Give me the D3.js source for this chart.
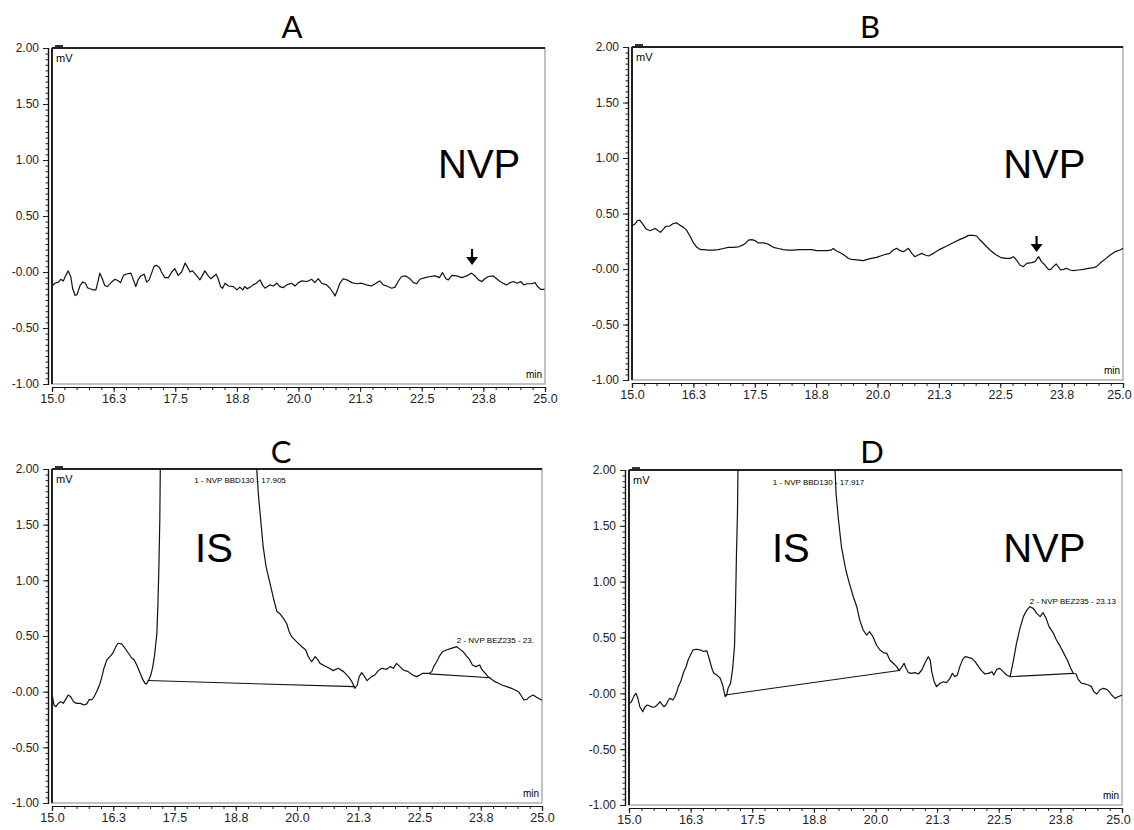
<!DOCTYPE html>
<html>
<head>
<meta charset="utf-8">
<script src="https://cdn.jsdelivr.net/npm/d3@7"></script>
<style>
  body { margin: 0; background: #fff; }
  svg { display: block; }
  .tick text { font-family: "Liberation Sans", Arial, sans-serif; fill: #222; }
</style>
</head>
<body>
<svg id="chart" width="1134" height="830"></svg>
<script>
// axis ticks (same for all four chromatograms)
var xTicks = [15, 16.25, 17.5, 18.75, 20, 21.25, 22.5, 23.75, 25];
var xTickLabels = ["15.0", "16.3", "17.5", "18.8", "20.0", "21.3", "22.5", "23.8", "25.0"];
var yTicks = [2, 1.5, 1, 0.5, 0, -0.5, -1];
var yTickLabels = ["2.00", "1.50", "1.00", "0.50", "-0.00", "-0.50", "-1.00"];

// traces: [time (min), signal (mV)]
var traceA = [[15.01,-0.12],[15.06,-0.10],[15.13,-0.09],[15.18,-0.065],[15.23,-0.08],[15.28,-0.03],[15.33,0.01],[15.38,-0.04],[15.42,-0.15],[15.47,-0.21],[15.51,-0.20],[15.57,-0.12],[15.62,-0.09],[15.68,-0.10],[15.72,-0.14],[15.77,-0.15],[15.84,-0.16],[15.89,-0.16],[15.93,-0.09],[15.97,-0.01],[16.02,-0.06],[16.07,-0.12],[16.12,-0.13],[16.21,-0.09],[16.28,-0.065],[16.35,-0.08],[16.39,-0.095],[16.45,-0.03],[16.50,-0.02],[16.60,-0.01],[16.65,-0.07],[16.70,-0.13],[16.75,-0.065],[16.80,-0.035],[16.87,-0.02],[16.92,-0.09],[16.97,-0.07],[17.02,-0.01],[17.07,0.05],[17.12,0.06],[17.18,0.04],[17.22,0.0],[17.29,-0.05],[17.36,-0.05],[17.43,0.0],[17.49,0.03],[17.56,-0.03],[17.63,0.0],[17.70,0.08],[17.74,0.05],[17.80,0.0],[17.85,0.01],[17.93,-0.03],[18.00,-0.07],[18.10,0.01],[18.17,-0.035],[18.22,-0.06],[18.33,-0.02],[18.37,-0.06],[18.42,-0.13],[18.46,-0.145],[18.51,-0.10],[18.58,-0.125],[18.68,-0.13],[18.75,-0.16],[18.81,-0.135],[18.87,-0.16],[18.91,-0.13],[18.96,-0.15],[19.02,-0.135],[19.08,-0.115],[19.14,-0.10],[19.22,-0.07],[19.27,-0.115],[19.32,-0.145],[19.37,-0.13],[19.42,-0.115],[19.49,-0.125],[19.56,-0.10],[19.62,-0.13],[19.69,-0.14],[19.76,-0.115],[19.86,-0.10],[19.93,-0.125],[20.0,-0.095],[20.06,-0.08],[20.17,-0.085],[20.27,-0.065],[20.33,-0.095],[20.40,-0.06],[20.47,-0.10],[20.57,-0.115],[20.64,-0.145],[20.71,-0.19],[20.74,-0.215],[20.79,-0.16],[20.84,-0.10],[20.91,-0.06],[20.98,-0.07],[21.08,-0.095],[21.18,-0.105],[21.28,-0.10],[21.38,-0.115],[21.48,-0.125],[21.59,-0.095],[21.65,-0.08],[21.72,-0.115],[21.79,-0.125],[21.89,-0.145],[21.96,-0.135],[22.02,-0.085],[22.09,-0.04],[22.18,-0.035],[22.26,-0.06],[22.33,-0.095],[22.40,-0.105],[22.46,-0.065],[22.57,-0.05],[22.67,-0.04],[22.77,-0.035],[22.86,-0.05],[22.92,-0.005],[22.99,-0.06],[23.04,-0.07],[23.11,-0.03],[23.21,-0.035],[23.31,-0.05],[23.41,-0.035],[23.51,-0.01],[23.58,-0.035],[23.65,-0.07],[23.72,-0.085],[23.78,-0.06],[23.85,-0.04],[23.95,-0.035],[24.02,-0.06],[24.09,-0.085],[24.15,-0.10],[24.22,-0.115],[24.29,-0.095],[24.36,-0.085],[24.44,-0.10],[24.51,-0.085],[24.57,-0.115],[24.64,-0.105],[24.73,-0.105],[24.80,-0.095],[24.84,-0.125],[24.91,-0.155],[24.99,-0.155]];

var traceB = [[15.0,0.39],[15.06,0.405],[15.11,0.435],[15.16,0.44],[15.22,0.405],[15.29,0.36],[15.37,0.345],[15.47,0.365],[15.52,0.35],[15.58,0.33],[15.64,0.36],[15.69,0.385],[15.76,0.385],[15.84,0.41],[15.91,0.415],[15.98,0.395],[16.05,0.375],[16.11,0.35],[16.17,0.305],[16.24,0.245],[16.32,0.195],[16.39,0.175],[16.47,0.175],[16.55,0.17],[16.66,0.17],[16.76,0.175],[16.86,0.185],[16.96,0.195],[17.06,0.195],[17.17,0.20],[17.25,0.215],[17.32,0.235],[17.37,0.26],[17.44,0.265],[17.51,0.255],[17.57,0.235],[17.68,0.235],[17.74,0.23],[17.81,0.215],[17.88,0.195],[17.98,0.185],[18.08,0.175],[18.18,0.17],[18.29,0.17],[18.39,0.175],[18.46,0.175],[18.56,0.175],[18.66,0.175],[18.76,0.165],[18.86,0.165],[18.97,0.165],[19.05,0.17],[19.10,0.185],[19.16,0.165],[19.20,0.155],[19.27,0.14],[19.34,0.12],[19.41,0.095],[19.47,0.087],[19.58,0.083],[19.71,0.075],[19.85,0.093],[19.98,0.105],[20.12,0.126],[20.25,0.141],[20.32,0.171],[20.39,0.186],[20.46,0.165],[20.53,0.156],[20.63,0.186],[20.70,0.141],[20.76,0.111],[20.83,0.126],[20.90,0.141],[20.97,0.126],[21.04,0.117],[21.14,0.141],[21.27,0.177],[21.41,0.207],[21.54,0.237],[21.68,0.267],[21.78,0.285],[21.85,0.303],[21.95,0.303],[22.02,0.297],[22.09,0.261],[22.19,0.216],[22.29,0.171],[22.39,0.135],[22.50,0.105],[22.60,0.096],[22.70,0.096],[22.77,0.111],[22.83,0.081],[22.90,0.036],[22.97,0.021],[23.04,0.051],[23.14,0.057],[23.21,0.066],[23.28,0.111],[23.34,0.066],[23.41,0.036],[23.48,-0.003],[23.53,-0.003],[23.58,0.021],[23.64,0.045],[23.68,0.021],[23.73,-0.009],[23.79,-0.003],[23.85,0.006],[23.92,-0.009],[23.99,-0.015],[24.09,-0.009],[24.19,-0.003],[24.29,0.006],[24.40,0.012],[24.46,0.021],[24.53,0.051],[24.63,0.087],[24.74,0.126],[24.84,0.156],[24.94,0.171],[25.0,0.186]];

var traceC = [[15.01,-0.045],[15.04,-0.12],[15.08,-0.135],[15.13,-0.105],[15.18,-0.09],[15.23,-0.105],[15.29,-0.06],[15.33,-0.03],[15.38,-0.045],[15.44,-0.09],[15.50,-0.105],[15.58,-0.105],[15.65,-0.12],[15.71,-0.11],[15.76,-0.07],[15.81,-0.075],[15.86,-0.045],[15.91,0.0],[15.97,0.06],[16.01,0.12],[16.06,0.21],[16.12,0.285],[16.18,0.315],[16.24,0.345],[16.31,0.41],[16.35,0.435],[16.42,0.43],[16.49,0.39],[16.56,0.345],[16.63,0.30],[16.67,0.29],[16.73,0.24],[16.80,0.165],[16.85,0.11],[16.90,0.075],[16.93,0.07],[16.97,0.10],[17.01,0.14],[17.05,0.21],[17.09,0.315],[17.14,0.52],[17.16,0.76],[17.18,1.09],[17.20,1.54],[17.21,2.0],[17.23,3.0],[17.5,9.0],[17.905,12.0],[18.5,8.0],[19.1,3.0],[19.18,1.99],[19.21,1.78],[19.26,1.54],[19.31,1.30],[19.37,1.12],[19.45,0.97],[19.53,0.82],[19.59,0.72],[19.65,0.70],[19.72,0.66],[19.79,0.61],[19.84,0.54],[19.89,0.494],[19.99,0.449],[20.10,0.404],[20.18,0.374],[20.23,0.314],[20.30,0.269],[20.37,0.314],[20.42,0.29],[20.47,0.254],[20.57,0.231],[20.66,0.21],[20.74,0.189],[20.84,0.21],[20.95,0.18],[21.05,0.135],[21.12,0.09],[21.18,0.03],[21.23,0.06],[21.27,0.135],[21.32,0.171],[21.37,0.141],[21.43,0.099],[21.52,0.135],[21.59,0.15],[21.66,0.189],[21.73,0.21],[21.83,0.201],[21.90,0.225],[21.97,0.21],[22.03,0.254],[22.10,0.225],[22.17,0.195],[22.27,0.18],[22.36,0.15],[22.44,0.135],[22.51,0.15],[22.56,0.165],[22.63,0.165],[22.70,0.165],[22.75,0.18],[22.79,0.225],[22.85,0.269],[22.90,0.314],[22.97,0.359],[23.05,0.374],[23.15,0.389],[23.26,0.404],[23.33,0.38],[23.39,0.359],[23.46,0.32],[23.52,0.29],[23.58,0.24],[23.65,0.225],[23.73,0.24],[23.77,0.2],[23.83,0.171],[23.90,0.135],[23.97,0.111],[24.04,0.09],[24.11,0.075],[24.18,0.06],[24.28,0.045],[24.38,0.03],[24.45,0.015],[24.52,0.0],[24.58,-0.039],[24.63,-0.075],[24.69,-0.069],[24.75,-0.045],[24.82,-0.03],[24.89,-0.051],[24.96,-0.069],[25.0,-0.075]];

var traceD = [[15.01,-0.09],[15.05,-0.075],[15.10,-0.025],[15.14,0.0],[15.18,-0.045],[15.22,-0.12],[15.28,-0.165],[15.32,-0.125],[15.37,-0.105],[15.43,-0.115],[15.48,-0.125],[15.53,-0.12],[15.57,-0.105],[15.63,-0.075],[15.66,-0.095],[15.71,-0.12],[15.75,-0.105],[15.80,-0.06],[15.83,-0.045],[15.89,-0.06],[15.93,-0.03],[15.97,0.015],[16.0,0.06],[16.05,0.105],[16.10,0.18],[16.16,0.24],[16.20,0.30],[16.25,0.345],[16.30,0.39],[16.37,0.395],[16.44,0.39],[16.51,0.375],[16.58,0.38],[16.63,0.305],[16.68,0.225],[16.72,0.18],[16.78,0.165],[16.85,0.135],[16.90,0.075],[16.95,-0.03],[16.98,-0.015],[17.01,0.045],[17.06,0.09],[17.10,0.21],[17.14,0.42],[17.16,0.78],[17.18,1.25],[17.20,1.61],[17.21,2.0],[17.23,3.0],[17.5,9.0],[17.917,12.0],[18.5,8.0],[19.1,3.0],[19.18,2.0],[19.20,1.79],[19.25,1.55],[19.31,1.31],[19.40,1.10],[19.47,0.985],[19.55,0.865],[19.62,0.776],[19.68,0.656],[19.75,0.567],[19.82,0.522],[19.88,0.552],[19.95,0.507],[20.02,0.433],[20.09,0.388],[20.16,0.365],[20.23,0.358],[20.29,0.299],[20.36,0.269],[20.43,0.239],[20.48,0.203],[20.53,0.233],[20.58,0.269],[20.62,0.224],[20.67,0.185],[20.73,0.179],[20.80,0.185],[20.87,0.173],[20.94,0.209],[21.0,0.269],[21.07,0.328],[21.11,0.299],[21.14,0.194],[21.19,0.104],[21.24,0.06],[21.31,0.09],[21.38,0.104],[21.44,0.096],[21.51,0.134],[21.56,0.179],[21.61,0.149],[21.66,0.164],[21.71,0.239],[21.77,0.304],[21.82,0.328],[21.88,0.322],[21.95,0.313],[22.02,0.284],[22.09,0.239],[22.15,0.203],[22.22,0.173],[22.29,0.179],[22.36,0.194],[22.40,0.164],[22.46,0.215],[22.52,0.224],[22.59,0.194],[22.66,0.164],[22.73,0.149],[22.80,0.299],[22.86,0.448],[22.93,0.582],[23.0,0.687],[23.07,0.746],[23.13,0.776],[23.20,0.761],[23.27,0.716],[23.34,0.687],[23.40,0.722],[23.46,0.672],[23.52,0.597],[23.61,0.537],[23.67,0.478],[23.75,0.418],[23.82,0.358],[23.89,0.299],[23.96,0.224],[24.01,0.179],[24.07,0.173],[24.11,0.125],[24.18,0.09],[24.25,0.084],[24.32,0.075],[24.38,0.06],[24.43,0.015],[24.49,-0.006],[24.55,0.03],[24.62,0.045],[24.69,0.036],[24.74,0.015],[24.79,-0.015],[24.86,-0.045],[24.92,-0.03],[25.0,-0.015]];

// integration baselines drawn under the peaks
var baselinesC = [[[16.95, 0.10], [21.18, 0.045]], [[22.70, 0.16], [23.95, 0.125]]];
var baselinesD = [[[16.95, -0.015], [20.48, 0.205]], [[22.73, 0.149], [24.01, 0.179]]];

// small peak annotations: [time, mV, text]
var peakLabelsC = [[17.905, 1.87, "1 - NVP BBD130 - 17.905"], [23.26, 0.44, "2 - NVP BEZ235 - 23."]];
var peakLabelsD = [[17.917, 1.87, "1 - NVP BBD130 - 17.917"], [23.13, 0.80, "2 - NVP BEZ235 - 23.13"]];

// big compound labels: [time, mV, text]
var bigLabelsA = [[22.83, 0.84, "NVP"]];
var bigLabelsB = [[22.56, 0.82, "NVP"]];
var bigLabelsC = [[17.92, 1.165, "IS"]];
var bigLabelsD = [[17.90, 1.176, "IS"], [22.59, 1.176, "NVP"]];

// arrow tips: [time, mV]
var arrowsA = [[23.52, 0.063]];
var arrowsB = [[23.24, 0.153]];

var panelTitles = ["A", "B", "C", "D"];

var svg = d3.select("#chart");

var panels = [
    { box: [52, 48, 545, 384], titleX: 292, titleY: 38, trace: traceA, baselines: [], peaks: [], big: bigLabelsA, arrows: arrowsA },
    { box: [632, 47, 1123, 380], titleX: 870, titleY: 38, trace: traceB, baselines: [], peaks: [], big: bigLabelsB, arrows: arrowsB },
    { box: [52, 469, 542, 803], titleX: 281, titleY: 463, trace: traceC, baselines: baselinesC, peaks: peakLabelsC, big: bigLabelsC, arrows: [] },
    { box: [629, 470, 1122, 805], titleX: 872, titleY: 463, trace: traceD, baselines: baselinesD, peaks: peakLabelsD, big: bigLabelsD, arrows: [] }
];

panels.forEach(drawPanel);

function drawPanel(p, idx) {
    var left = p.box[0], top = p.box[1], right = p.box[2], bottom = p.box[3];
    var x = d3.scaleLinear().domain([15, 25]).range([left, right]);
    var y = d3.scaleLinear().domain([-1, 2]).range([bottom, top]);
    var g = svg.append("g");

    // clip for trace
    var clipId = "clip" + idx;
    svg.append("clipPath").attr("id", clipId)
        .append("rect").attr("x", left).attr("y", top).attr("width", right - left).attr("height", bottom - top);

    // title
    g.append("text")
        .attr("x", p.titleX).attr("y", p.titleY)
        .attr("text-anchor", "middle")
        .style("font-family", "Lato, 'Open Sans', sans-serif")
        .style("font-size", "31px")
        .text(panelTitles[idx]);

    // y axis, a few px left of the frame
    var yAxisG = g.append("g").attr("transform", "translate(" + (left - 4) + ",0)");
    yAxisG.call(d3.axisLeft(y).tickValues(d3.range(-1, 2.001, 0.05)).tickSize(2.5).tickFormat(""));
    yAxisG.append("g").call(d3.axisLeft(y).tickValues(yTicks).tickSize(5).tickPadding(4)
        .tickFormat(function (d, i) { return yTickLabels[i]; }));
    yAxisG.selectAll("path.domain").attr("stroke", "#111").attr("stroke-width", 1.2);
    yAxisG.selectAll(".tick line").attr("stroke", "#222");
    yAxisG.selectAll(".tick text").style("font-size", "12px");

    // x axis under the frame
    var xAxisG = g.append("g").attr("transform", "translate(0," + (bottom + 3) + ")");
    xAxisG.call(d3.axisBottom(x).tickValues(d3.range(15, 25.001, 0.25)).tickSize(3).tickFormat(""));
    xAxisG.append("g").call(d3.axisBottom(x).tickValues(xTicks).tickSize(5).tickPadding(2)
        .tickFormat(function (d, i) { return xTickLabels[i]; }));
    xAxisG.selectAll("path.domain").attr("stroke", "#111").attr("stroke-width", 1.2);
    xAxisG.selectAll(".tick line").attr("stroke", "#222");
    xAxisG.selectAll(".tick text").style("font-size", "12.5px")
        .attr("dx", function (d) { return (d === 25 && right > 1100) ? "-4" : "0"; });

    // frame
    g.append("rect").attr("x", left).attr("y", top).attr("width", right - left).attr("height", bottom - top)
        .attr("fill", "none").attr("stroke", "#999").attr("stroke-width", 1.2);
    g.append("line").attr("x1", left).attr("x2", right).attr("y1", top).attr("y2", top)
        .attr("stroke", "#222").attr("stroke-width", 2);
    g.append("line").attr("x1", left).attr("x2", left).attr("y1", top).attr("y2", bottom)
        .attr("stroke", "#222").attr("stroke-width", 2);
    g.append("rect").attr("x", left + 3).attr("y", top - 3).attr("width", 8).attr("height", 2).attr("fill", "#333");

    g.append("text").attr("x", left + 4).attr("y", top + 14)
        .style("font-family", "'Liberation Sans', Arial, sans-serif").style("font-size", "11px").text("mV");
    g.append("text").attr("x", right - 3).attr("y", bottom - 6).attr("text-anchor", "end")
        .style("font-family", "'Liberation Sans', Arial, sans-serif").style("font-size", "10px").text("min");

    var plot = g.append("g").attr("clip-path", "url(#" + clipId + ")");

    // baselines
    plot.selectAll("line.base").data(p.baselines).enter().append("line")
        .attr("class", "base")
        .attr("x1", function (d) { return x(d[0][0]); }).attr("y1", function (d) { return y(d[0][1]); })
        .attr("x2", function (d) { return x(d[1][0]); }).attr("y2", function (d) { return y(d[1][1]); })
        .attr("stroke", "#111").attr("stroke-width", 1.1);

    // trace
    var line = d3.line().x(function (d) { return x(d[0]); }).y(function (d) { return y(d[1]); });
    plot.append("path").datum(p.trace)
        .attr("d", line).attr("fill", "none")
        .attr("stroke", "#111").attr("stroke-width", 1.2).attr("stroke-linejoin", "round");

    // peak labels
    plot.selectAll("text.peak").data(p.peaks).enter().append("text")
        .attr("class", "peak")
        .attr("x", function (d) { return x(d[0]); }).attr("y", function (d) { return y(d[1]); })
        .style("font-family", "'Liberation Sans', Arial, sans-serif").style("font-size", "8px")
        .text(function (d) { return d[2]; });

    // big labels
    g.selectAll("text.big").data(p.big).enter().append("text")
        .attr("class", "big")
        .attr("x", function (d) { return x(d[0]); }).attr("y", function (d) { return y(d[1]); })
        .style("font-family", "'Liberation Sans', Arial, sans-serif").style("font-size", "40px")
        .text(function (d) { return d[2]; });

    // arrows pointing down at the expected NVP position
    var arrowG = g.selectAll("g.arrow").data(p.arrows).enter().append("g")
        .attr("transform", function (d) { return "translate(" + x(d[0]) + "," + y(d[1]) + ")"; });
    arrowG.append("line").attr("x1", 0).attr("x2", 0).attr("y1", -16).attr("y2", -6)
        .attr("stroke", "#000").attr("stroke-width", 2.2);
    arrowG.append("path").attr("d", "M-6,-8 L6,-8 L0,0 Z").attr("fill", "#000");
}
</script>
</body>
</html>
